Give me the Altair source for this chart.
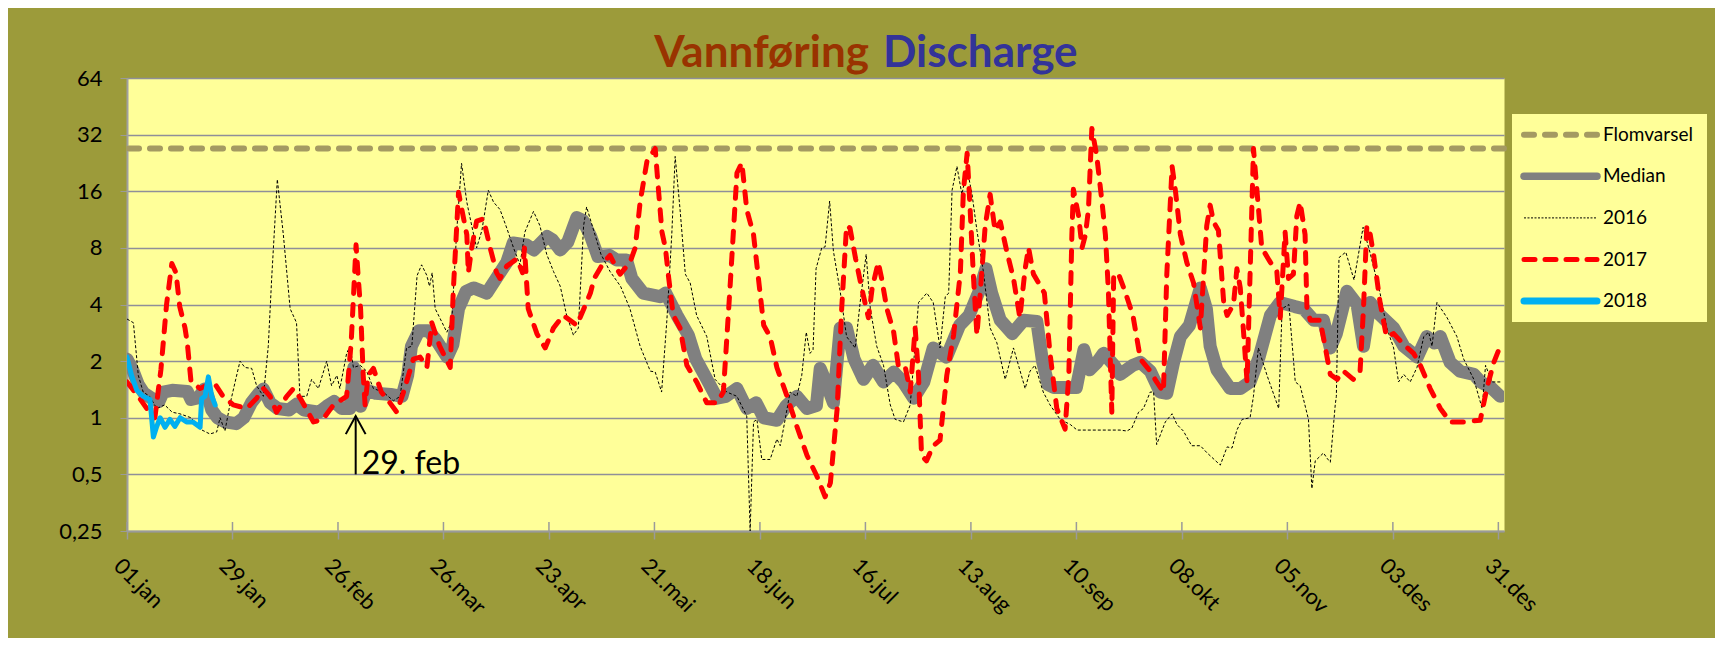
import json
import altair as alt
import pandas as pd

# ---------------- data ----------------
TICK_LABELS = ["01.jan", "29.jan", "26.feb", "26.mar", "23.apr", "21.mai", "18.jun",
               "16.jul", "13.aug", "10.sep", "08.okt", "05.nov", "03.des", "31.des"]
TICK_DAYS = [0, 28, 56, 84, 112, 140, 168, 196, 224, 252, 280, 308, 336, 364]
Y_TICKS = [0.25, 0.5, 1, 2, 4, 8, 16, 32, 64]
FLOMVARSEL = 27
TITLE_NO = "Vannføring"
TITLE_EN = "Discharge"
ANNOT_TEXT = "29. feb"
ANNOT_DAY = [60.7]
ANNOT_LO = [0.5]
ANNOT_HI = [1.02]
ANNOT_TEXT_DAY = [62.3]
LEGEND_LABELS = ["Flomvarsel", "Median", "2016", "2017", "2018"]

median_day = [0, 1.5, 3, 4.5, 7, 8.5, 9.6, 12, 16, 17, 19, 20.5, 21.5, 22.5, 24, 26, 29, 31, 33, 35,
              36.2, 38, 40, 43, 45, 47, 51, 53, 55, 57, 59.2, 60.2, 61.5, 62, 63.6, 66, 70, 73, 74.5,
              75.5, 77.5, 80, 82, 85, 86.5, 88, 90, 92, 95.5, 98, 100.8, 102.5, 106, 108, 111.5, 113,
              115, 117, 119.4, 121, 123, 125, 128, 130, 132.6, 134, 137, 141.5, 143, 146, 149, 151,
              153.5, 156.6, 159, 161.9, 164.5, 167, 169, 172.5, 175, 177.8, 180.5, 183, 184, 185.5,
              187.5, 189.3, 191, 193, 195.5, 198, 200.8, 203.5, 206, 208.8, 211.5, 214, 217.5, 221,
              223.5, 226, 228, 229.5, 231.8, 235, 238, 241.5, 243, 244.5, 246, 252, 254, 255.5, 257.5,
              259.2, 262, 263.6, 267, 269, 271.6, 274.2, 276, 277.8, 279.6, 282, 284.9, 286.5, 287.5,
              289.3, 292.8, 295.5, 298.1, 300.5, 303.5, 306, 310, 312.3, 315, 317.6, 319.4, 321, 323.8,
              326.5, 328.2, 330, 332.7, 336.2, 338.9, 342.5, 345, 347, 348.6, 351.2, 353.8, 357.5,
              359.3, 362, 364.5]
median_val = [2.05, 1.8, 1.5, 1.35, 1.25, 1.22, 1.37, 1.4, 1.38, 1.25, 1.28, 1.42, 1.3, 1.1, 1.0, 0.95,
              0.93, 1.0, 1.2, 1.35, 1.42, 1.2, 1.12, 1.1, 1.18, 1.1, 1.07, 1.15, 1.22, 1.12, 1.12, 1.85,
              1.6, 1.15, 1.4, 1.35, 1.33, 1.3, 1.68, 2.4, 2.9, 2.9, 2.6, 2.1, 2.45, 3.8, 4.7, 4.9, 4.6,
              5.5, 6.7, 8.5, 8.3, 7.8, 9.2, 8.8, 7.8, 8.6, 11.6, 11.2, 9.3, 7.2, 7.3, 6.9, 6.9, 5.5, 4.6,
              4.4, 4.6, 3.5, 2.75, 2.05, 1.66, 1.27, 1.3, 1.43, 1.12, 1.2, 1.0, 0.97, 1.16, 1.3, 1.12,
              1.16, 1.83, 1.55, 1.2, 3.0, 3.0, 2.05, 1.6, 1.9, 1.55, 1.75, 1.55, 1.27, 1.55, 2.35, 2.1,
              3.1, 3.5, 4.6, 6.2, 4.6, 3.3, 2.8, 3.3, 3.25, 2.0, 1.5, 1.45, 1.45, 2.3, 1.8, 1.97, 2.2,
              1.9, 1.7, 1.9, 1.97, 1.77, 1.37, 1.35, 1.97, 2.7, 3.1, 4.9, 3.8, 2.4, 1.8, 1.43, 1.43,
              1.55, 2.1, 3.5, 4.1, 3.9, 3.8, 3.3, 3.3, 2.35, 2.8, 4.7, 4.0, 2.4, 4.1, 3.5, 3.0, 2.4, 2.1,
              2.7, 2.5, 2.7, 1.97, 1.77, 1.7, 1.55, 1.45, 1.3]

y2016_day = [0, 1.7, 3, 4.3, 6, 7.9, 10, 12, 14, 17, 19.4, 22, 23.8, 24.7, 26, 27.3, 28.7, 30, 31.3,
             33.1, 34.4, 36.2, 37.5, 38.4, 39.9, 41.5, 43.3, 45, 45.9, 47.7, 49, 50.8, 53, 54.3, 55.7,
             56.5, 58.3, 59.2, 60.1, 61.9, 63.6, 65.4, 68, 70.7, 72.5, 74.2, 75.6, 77, 78.2, 79.6, 80.3,
             81, 81.8, 83.5, 84.9, 86.2, 87.5, 88.8, 90.2, 91.5, 92.8, 94.2, 95.9, 97.3, 99, 100.8,
             102.6, 104.3, 105.6, 107.9, 109.6, 111.4, 113.2, 115, 116.7, 118.5, 119.8, 121.2, 122,
             124, 125.8, 128.2, 131, 133.5, 136.2, 138.9, 140.2, 141.9, 143.3, 144.6, 145.5, 146.8,
             148.2, 149.5, 151.2, 153.9, 156.1, 159.2, 161.9, 164.5, 165.4, 166.3, 167.2, 168.5,
             170.7, 172.5, 173.4, 174.7, 176, 177.8, 179.1, 180.3, 181.3, 182.1, 182.9, 184.4, 185.3,
             186.5, 187.5, 189.3, 191, 193.3, 194.6, 196.2, 197.3, 199, 200.8, 202.6, 203.9, 206.1,
             207.9, 210.1, 212.3, 214, 215.8, 217.2, 218.1, 219, 220.3, 221.6, 223, 224.3, 225.6,
             227.3, 229.1, 230.9, 233.1, 235.3, 238.4, 239.7, 241, 243.2, 245, 247.7, 250.4, 252.2,
             263.6, 265.4, 266.7, 268.5, 269.8, 271.6, 272.5, 273.3, 275.6, 277.4, 278.7, 280.4,
             282.6, 284.9, 286.7, 290.2, 292, 293.3, 294.6, 296, 298.1, 299, 300.3, 302.6, 305.7,
             306.6, 308.4, 310.1, 311.4, 313.6, 314.5, 315.4, 317.6, 318.5, 319.4, 320.7, 321, 321.7,
             323.5, 325.7, 328.1, 329.9, 332.6, 334.4, 336.2, 337.5, 338.9, 340.6, 342.4, 344.2,
             345.5, 346.4, 347.7, 350.4, 353, 354.8, 357.5, 359.7, 360.6, 362.3, 365]
y2016_val = [3.35, 3.2, 1.68, 1.37, 1.3, 1.12, 1.17, 1.07, 1.05, 1.0, 0.87, 0.82, 0.84, 1.0, 0.85, 1.17,
             1.55, 2.0, 1.85, 1.83, 1.48, 1.3, 2.4, 5.5, 18.5, 9.4, 3.8, 3.2, 1.3, 1.3, 1.6, 1.43, 2.0,
             1.48, 1.68, 1.43, 2.2, 2.4, 1.85, 1.9, 1.77, 1.43, 1.37, 1.23, 1.3, 2.35, 2.4, 5.7, 6.5,
             5.7, 5.0, 5.9, 3.8, 3.25, 2.85, 3.25, 9.7, 22.5, 14, 10.5, 8.0, 9.9, 16.2, 14, 12.8, 10.2,
             8.0, 6.5, 9.7, 12.5, 10.5, 7.4, 6.0, 5.0, 3.5, 2.75, 3.0, 10.5, 13.2, 9.7, 7.4, 6.0, 5.0,
             3.8, 2.4, 1.77, 1.75, 1.37, 3.3, 9.4, 24.5, 12.8, 5.8, 5.2, 3.5, 2.7, 1.6, 1.37, 1.3, 1.02,
             0.25, 0.95, 0.98, 0.6, 0.6, 0.77, 0.71, 0.98, 1.37, 1.3, 1.68, 2.85, 2.2, 2.3, 6.2, 8.0,
             8.1, 14.2, 7.7, 4.7, 2.7, 2.35, 4.1, 7.4, 3.8, 2.4, 1.9, 1.17, 0.98, 0.95, 1.17, 4.1, 4.6,
             4.1, 2.35, 4.4, 4.6, 16.2, 21.7, 15.4, 21, 15.4, 9.9, 6.0, 3.0, 2.5, 1.6, 2.35, 1.43, 1.77,
             1.9, 1.37, 1.17, 0.98, 0.92, 0.86, 0.86, 0.85, 0.88, 1.07, 1.12, 1.37, 1.37, 0.72, 0.95,
             1.05, 0.92, 0.85, 0.71, 0.71, 0.65, 0.56, 0.7, 0.69, 0.86, 0.98, 1.0, 1.3, 2.35, 1.68,
             1.12, 3.8, 4.0, 1.55, 1.48, 0.98, 0.42, 0.59, 0.65, 0.61, 0.58, 1.17, 1.3, 7.1, 7.6, 5.4,
             10.3, 7.6, 4.6, 3.0, 2.35, 1.55, 1.7, 1.55, 1.85, 2.7, 2.85, 2.4, 4.1, 3.4, 2.7, 2.05,
             1.6, 1.12, 1.9, 1.55, 1.55]

y2017_day = [0, 3, 5.5, 7.4, 9, 10.5, 11.9, 13, 14, 15.4, 16, 17, 19.4, 23, 25.5, 28.2, 31.8, 34.4,
             36.2, 38, 39.7, 42.4, 44.2, 46, 49.5, 52, 54.8, 58.3, 59.5, 60.8, 61.4, 62, 62.7, 63.2,
             64, 65.4, 67.5, 69.8, 71.6, 73.4, 76, 77.8, 79.6, 80.9, 83, 85.8, 86.6, 88, 88.8, 90.2,
             90.6, 91.5, 92.8, 94.6, 96.4, 98.1, 99, 100.8, 103.5, 105, 105.5, 106.5, 108.8, 111,
             113.2, 115.8, 119.4, 123, 124, 126.5, 128.2, 130, 130.9, 133.5, 134.9, 136.2, 138, 140.2,
             141.1, 142, 142.9, 143.8, 145, 146.8, 148.6, 151.2, 153.9, 156.5, 158.3, 160, 161.9,
             163.2, 164.5, 166.3, 169, 170.7, 172.5, 175.2, 177.8, 180.5, 183.1, 185.3, 186.7, 188.5,
             189.7, 191, 191.9, 193.4, 195.2, 196.8, 197.8, 199.4, 200.3, 201.7, 203.5, 204.8, 206.6,
             207.9, 209.2, 210.1, 210.9, 212.2, 214, 215.8, 217.6, 219.4, 221.2, 222, 223, 223.8,
             224.7, 225.6, 226.5, 227.8, 229.1, 230.4, 231.8, 233.5, 235.3, 237, 238.4, 239.3, 240.6,
             242, 243.5, 245, 246.8, 249, 250, 250.8, 251.2, 252.6, 253.5, 254.4, 255.2, 256.1, 257.4,
             258.8, 259.7, 260.5, 261.4, 261.9, 263.2, 264.9, 267, 269, 271.6, 273.3, 275.1, 276,
             277.4, 278.3, 279.6, 281.3, 283.1, 284.9, 285.8, 286.6, 287.5, 288.4, 289.7, 291.1, 292,
             293.7, 294.6, 295.5, 296.4, 297.3, 298.1, 299, 299.9, 301.2, 303.5, 305.2, 306.1, 307.4,
             308.3, 309.6, 310.5, 311.4, 312.7, 313.2, 314.1, 316.7, 318, 319.4, 321.2, 322.9, 325.5,
             327.3, 328.2, 329.1, 330, 330.9, 332.6, 334.3, 336.2, 338.9, 341.5, 343.3, 345.9, 348.6,
             351.2, 354.8, 359.2, 361, 362.8, 364.5]
y2017_val = [1.55, 1.3, 1.1, 1.0, 1.8, 4.0, 6.6, 5.9, 3.9, 3.0, 2.5, 1.55, 1.43, 1.55, 1.3, 1.17, 1.12,
             1.27, 1.43, 1.3, 1.07, 1.3, 1.43, 1.27, 0.95, 0.98, 1.17, 1.3, 2.5, 8.3, 5.5, 3.8, 1.68,
             1.17, 1.68, 1.83, 1.37, 1.2, 1.07, 1.37, 2.05, 2.1, 1.85, 3.2, 2.4, 1.85, 4.7, 15.8, 13,
             9.4, 5.9, 8.0, 11.1, 11.4, 8.0, 5.9, 5.5, 6.4, 7.0, 5.9, 8.0, 3.8, 2.8, 2.35, 3.0, 3.5, 3.1,
             4.6, 5.5, 6.7, 7.3, 6.2, 5.8, 6.7, 8.0, 14, 23, 27, 16, 9.7, 8.0, 5.5, 3.5, 3.0, 1.9, 1.55,
             1.2, 1.2, 1.37, 4.7, 20, 22.7, 12.8, 9.4, 3.1, 2.7, 1.85, 1.3, 0.9, 0.63, 0.49, 0.38, 0.45,
             1.12, 3.8, 10.5, 10.2, 7.0, 4.7, 3.4, 4.9, 6.7, 5.5, 3.8, 2.85, 1.85, 1.85, 1.37, 3.0,
             1.68, 0.63, 0.59, 0.71, 0.76, 1.68, 2.75, 5.9, 16, 25.5, 12.8, 5.5, 2.75, 4.7, 10.5, 15.4,
             9.9, 11, 7.7, 5.5, 3.4, 6.2, 8.0, 5.8, 5.2, 4.6, 2.2, 1.12, 0.87, 1.7, 9.4, 16.4, 11.8, 8.0,
             9.4, 12.8, 34.5, 24.7, 14, 9.4, 4.7, 1.07, 5.8, 5.8, 4.7, 3.5, 2.05, 1.77, 1.55, 1.37, 5.8,
             21.7, 16, 9.4, 6.7, 5.2, 3.0, 5.8, 10.5, 13.5, 11, 9.9, 4.1, 3.5, 4.0, 6.2, 4.9, 2.8, 1.55,
             5.8, 27, 16.4, 8.0, 6.7, 6.0, 3.4, 9.7, 5.5, 5.8, 11.8, 14, 9.4, 3.8, 3.3, 3.3, 2.4, 1.7,
             1.6, 1.77, 1.6, 1.77, 3.8, 10.5, 9.4, 7.3, 4.1, 2.7, 2.8, 2.45, 2.2, 1.9, 1.43, 1.12, 0.95,
             0.95, 0.97, 1.45, 1.97, 2.4]

y2018_day = [0, 1.2, 2.6, 4.3, 6.1, 7, 7.9, 8.8, 10.1, 11.4, 12.7, 14.1, 15.8, 17.5, 19.4, 19.8, 20.7,
             21.6, 22.5, 23.4]
y2018_val = [2.1, 1.68, 1.4, 1.3, 1.25, 0.79, 0.9, 1.0, 0.89, 0.98, 0.9, 1.0, 0.95, 0.95, 0.89, 1.26,
             1.3, 1.65, 1.3, 1.17]

# ---------------- styling ----------------
OLIVE = "#9C9B3A"
PLOT_BG = "#FFFF99"
FLOM_COLOR = "#A49A62"
MEDIAN_COLOR = "#808080"
RED = "#FF0000"
BLUE = "#00B0F0"
AXIS_GREY = "#9A9A9A"
FONT = "Lato"

W, H = 1377, 453

x_enc = alt.X(
    "day:Q",
    scale=alt.Scale(domain=[0, 365.5], nice=False, zero=False),
    axis=alt.Axis(
        values=TICK_DAYS,
        labelExpr=json.dumps(TICK_LABELS) + "[round(datum.value / 28)]",
        title=None, grid=False, labelAngle=45, labelAlign="left", labelBaseline="top",
        tickSize=8, labelPadding=16, labelOffset=-3, labelOverlap=False,
        labelFontSize=22, domainColor=AXIS_GREY, tickColor=AXIS_GREY, domainWidth=2,
        tickWidth=1.5,
    ),
)
y_enc = alt.Y(
    "q:Q",
    scale=alt.Scale(type="log", base=2, domain=[0.25, 64], nice=False),
    axis=alt.Axis(
        values=Y_TICKS,
        labelExpr="replace(toString(datum.value), '.', ',')",
        title=None, grid=True, gridColor="#8F8F99", gridWidth=1.5,
        tickSize=7, labelPadding=18, labelFontSize=22, labelOverlap=False,
        domainColor="#A0A0A0", tickColor=AXIS_GREY, domainWidth=2,
    ),
)


def series_df(days, vals):
    return pd.DataFrame({"day": days, "q": vals})


one = pd.DataFrame({"a": [0]})

# inner half of the crossing x-axis tick marks
inner_ticks = alt.Chart(pd.DataFrame({"day": TICK_DAYS})).mark_rule(
    color=AXIS_GREY, strokeWidth=1.5
).encode(x=alt.X("day:Q"), y=alt.value(H - 9), y2=alt.value(H))

flom = alt.Chart(pd.DataFrame({"q": [FLOMVARSEL]})).mark_rule(
    color=FLOM_COLOR, strokeWidth=6, strokeDash=[10, 11], strokeCap="round"
).encode(y=y_enc)

median = alt.Chart(series_df(median_day, median_val)).mark_line(
    color=MEDIAN_COLOR, strokeWidth=13, strokeCap="round", strokeJoin="round", clip=True
).encode(x=x_enc, y=y_enc)

l2016 = alt.Chart(series_df(y2016_day, y2016_val)).mark_line(
    color="black", strokeWidth=1, strokeDash=[3, 2], clip=True
).encode(x=x_enc, y=y_enc)

l2017 = alt.Chart(series_df(y2017_day, y2017_val)).mark_line(
    color=RED, strokeWidth=5, strokeDash=[11, 11], strokeCap="round", strokeJoin="round", clip=True
).encode(x=x_enc, y=y_enc)

l2018 = alt.Chart(series_df(y2018_day, y2018_val)).mark_line(
    color=BLUE, strokeWidth=5, strokeCap="round", strokeJoin="round", clip=True
).encode(x=x_enc, y=y_enc)

# annotation arrow "29. feb"
arrow_df = pd.DataFrame({"day": ANNOT_DAY, "lo": ANNOT_LO, "hi": ANNOT_HI})
arrow = alt.Chart(arrow_df).mark_rule(color="black", strokeWidth=2).encode(
    x="day:Q", y="lo:Q", y2="hi:Q"
)
arrow_head = alt.Chart(arrow_df).mark_point(
    shape="M-0.55,1L0,0L0.55,1", size=1296, filled=False, stroke="black",
    strokeWidth=2, opacity=1
).encode(x="day:Q", y="hi:Q")
annot = alt.Chart(pd.DataFrame({"day": ANNOT_TEXT_DAY, "q": ANNOT_LO})).mark_text(
    text=ANNOT_TEXT, align="left", baseline="alphabetic", fontSize=32, font=FONT, color="black"
).encode(x="day:Q", y="q:Q")

# title (two colours)
title_no = alt.Chart(one).mark_text(
    align="right", baseline="alphabetic", fontSize=44, fontWeight="bold", font=FONT, color="#993300"
).encode(x=alt.value(742), y=alt.value(-11), text=alt.value(TITLE_NO))
title_en = alt.Chart(one).mark_text(
    align="left", baseline="alphabetic", fontSize=44, fontWeight="bold", font=FONT, color="#333399"
).encode(x=alt.value(756), y=alt.value(-11), text=alt.value(TITLE_EN))

# legend
LEG_X0, LEG_X1, LEG_Y0, LEG_Y1 = 1385, 1580, 36, 244
SYM_X0, SYM_X1, LAB_X = 1397, 1470, 1476
ROW_Y0, ROW_STEP = 56.7, 41.6
legend_styles = [
    dict(color=FLOM_COLOR, strokeWidth=6, strokeDash=[10, 11], strokeCap="round"),
    dict(color=MEDIAN_COLOR, strokeWidth=7.5, strokeCap="round"),
    dict(color="black", strokeWidth=1, strokeDash=[2, 1.5]),
    dict(color=RED, strokeWidth=5, strokeDash=[11, 10], strokeCap="round"),
    dict(color=BLUE, strokeWidth=7, strokeCap="round"),
]
legend_layers = [
    alt.Chart(one).mark_rect(color=PLOT_BG).encode(
        x=alt.value(LEG_X0), x2=alt.value(LEG_X1), y=alt.value(LEG_Y0), y2=alt.value(LEG_Y1)
    )
]
for i, (lab, st) in enumerate(zip(LEGEND_LABELS, legend_styles)):
    yy = ROW_Y0 + i * ROW_STEP
    legend_layers.append(
        alt.Chart(one).mark_rule(**st).encode(
            x=alt.value(SYM_X0), x2=alt.value(SYM_X1), y=alt.value(yy)
        )
    )
    legend_layers.append(
        alt.Chart(one).mark_text(
            align="left", baseline="middle", fontSize=19, font=FONT, color="black"
        ).encode(x=alt.value(LAB_X), y=alt.value(yy), text=alt.value(lab))
    )

chart = alt.layer(
    inner_ticks, flom, median, l2016, l2017, l2018, arrow, arrow_head, annot, title_no, title_en,
    *legend_layers
).properties(
    width=W, height=H,
    padding={"left": 119, "top": 70, "right": 211, "bottom": 107},
    autosize=alt.AutoSizeParams(type="none"),
).configure(
    background=OLIVE, font=FONT
).configure_view(
    fill=PLOT_BG, stroke="transparent"
).configure_axis(
    labelFont=FONT, labelColor="black"
)

chart.save("out.html", embed_options={"renderer": "svg", "actions": False})
